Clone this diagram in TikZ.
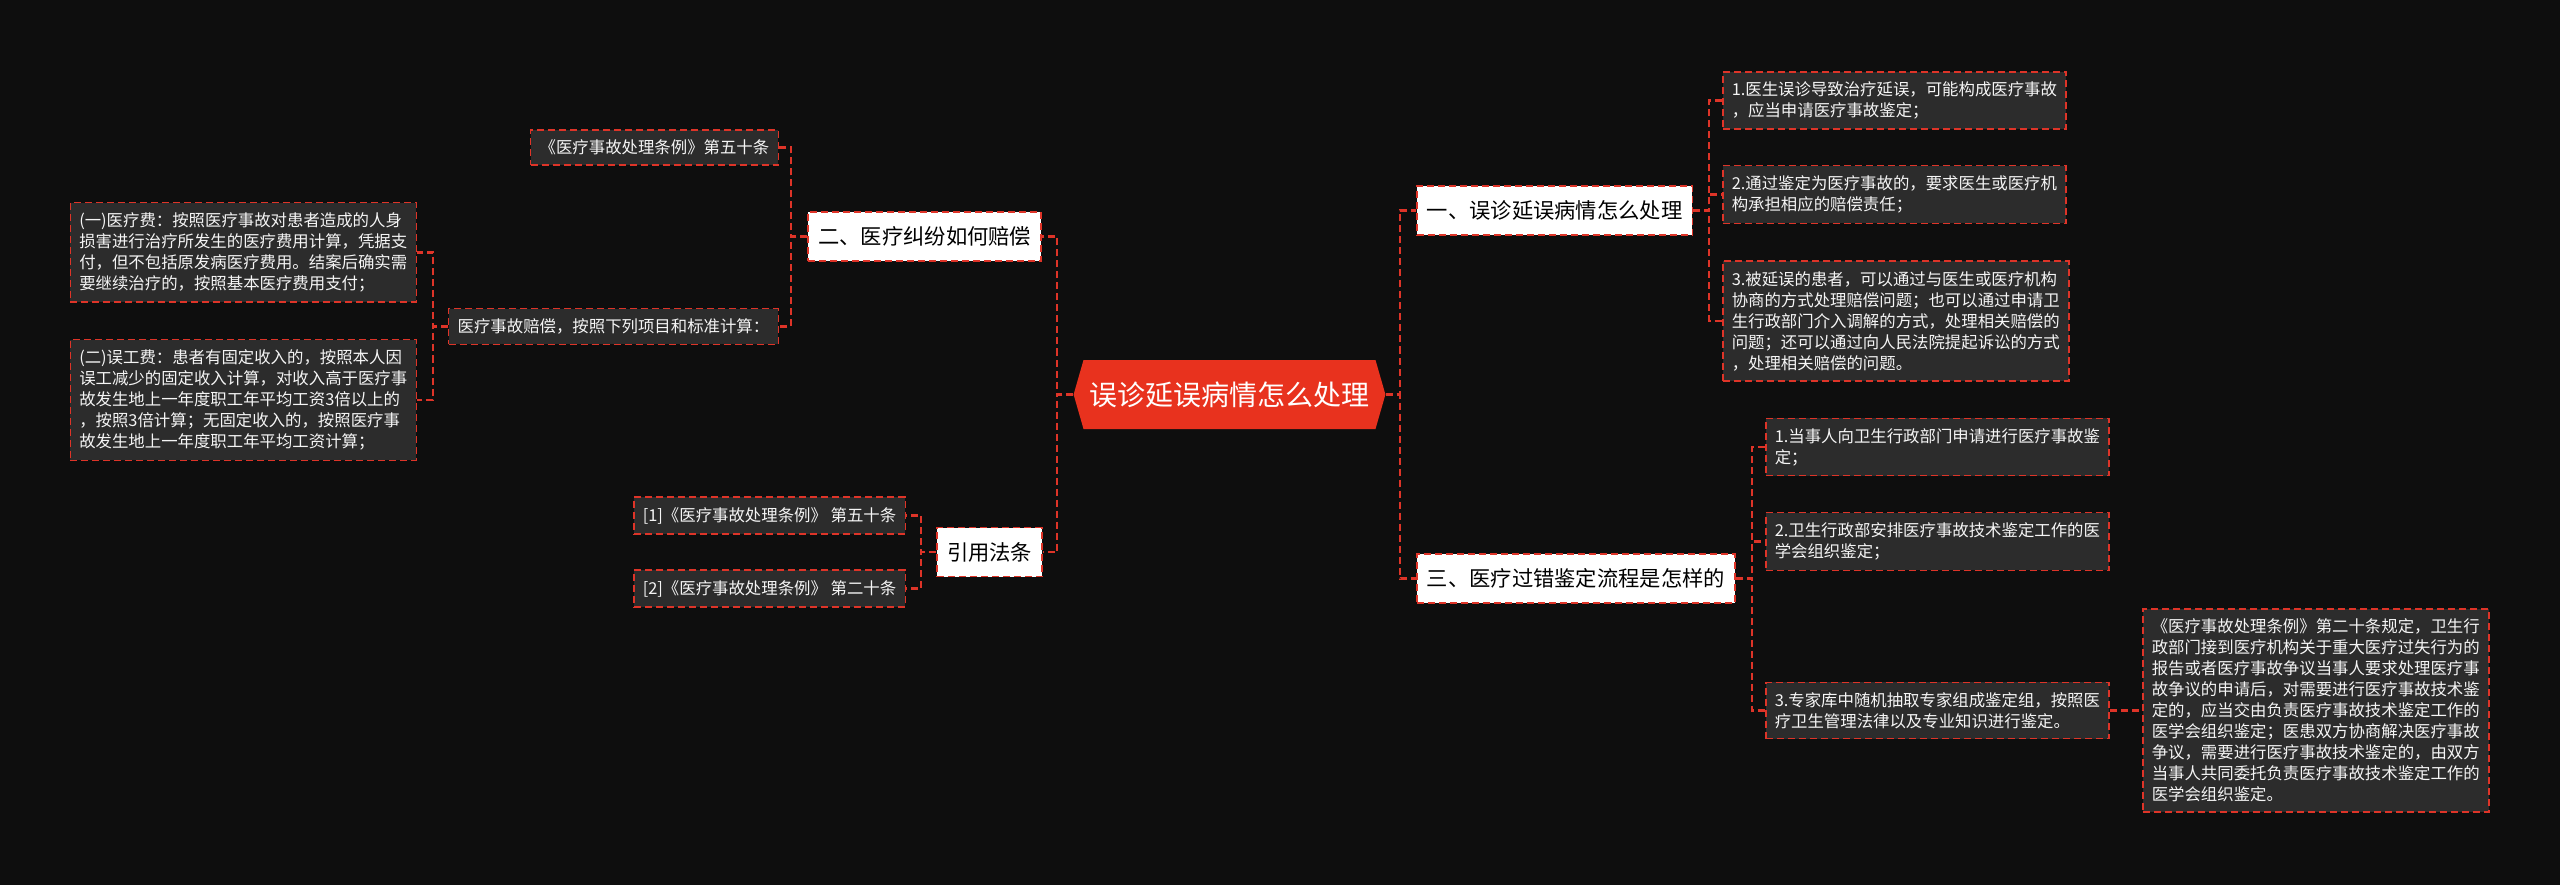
\documentclass[tikz,border=0pt]{standalone}
\usepackage{fontspec}
\setmainfont{Noto Sans CJK SC}
\usetikzlibrary{shapes}
\usetikzlibrary{calc,positioning}

\definecolor{bg}{RGB}{14,14,14}
\definecolor{leafbg}{RGB}{44,44,44}
\definecolor{dashred}{RGB}{222,52,40}
\definecolor{topicred}{RGB}{232,50,30}

\begin{document}
\begin{tikzpicture} [x=1pt, y=-1pt,
        topic/.style={
            signal,
            signal to=east and west,
            signal pointer angle=148,
            fill=topicred,
            text=white,
            font=\fontsize{28}{32}\selectfont,
            minimum height=69pt,
            inner xsep=6pt,
            inner ysep=0pt},
        branch/.style={
            rectangle,
            draw=dashred,
            fill=white,
            text=black,
            dash pattern=on 7pt off 4pt,
            line width=1.6pt,
            font=\fontsize{21.3}{26}\selectfont,
            minimum height=49pt,
            inner xsep=10pt,
            inner ysep=0pt},
        leaf/.style={
            rectangle,
            draw=dashred,
            fill=leafbg,
            text=white!96!black,
            align=left,
            dash pattern=on 7pt off 4pt,
            line width=1.5pt,
            font=\fontsize{16.4}{21}\selectfont,
            inner xsep=9pt,
            inner ysep=10pt},
        link/.style={
            draw=dashred,
            dash pattern=on 7pt off 4pt,
            line width=2.1pt}]

    \fill[bg] (0,0) rectangle (2560,885);

    % centre
    \node[topic] (t) at (1229.5,394.5) {误诊延误病情怎么处理};

    % right branches
    \node[branch,anchor=west] (b1) at (1416,210.5) {一、误诊延误病情怎么处理};
    \node[branch,anchor=west] (b3) at (1416,578.5) {三、医疗过错鉴定流程是怎样的};

    \node[leaf,anchor=west] (r11) at (1722,100.5) {1.医生误诊导致治疗延误，可能构成医疗事故\\，应当申请医疗事故鉴定；};
    \node[leaf,anchor=west] (r12) at (1722,194.5) {2.通过鉴定为医疗事故的，要求医生或医疗机\\构承担相应的赔偿责任；};
    \node[leaf,anchor=west] (r13) at (1722,321) {3.被延误的患者，可以通过与医生或医疗机构\\协商的方式处理赔偿问题；也可以通过申请卫\\生行政部门介入调解的方式，处理相关赔偿的\\问题；还可以通过向人民法院提起诉讼的方式\\，处理相关赔偿的问题。};

    \node[leaf,anchor=west] (r31) at (1765,447) {1.当事人向卫生行政部门申请进行医疗事故鉴\\定；};
    \node[leaf,anchor=west] (r32) at (1765,541.5) {2.卫生行政部安排医疗事故技术鉴定工作的医\\学会组织鉴定；};
    \node[leaf,anchor=west] (r33) at (1765,710.5) {3.专家库中随机抽取专家组成鉴定组，按照医\\疗卫生管理法律以及专业知识进行鉴定。};
    \node[leaf,anchor=west] (r34) at (2142,710.5) {《医疗事故处理条例》第二十条规定，卫生行\\政部门接到医疗机构关于重大医疗过失行为的\\报告或者医疗事故争议当事人要求处理医疗事\\故争议的申请后，对需要进行医疗事故技术鉴\\定的，应当交由负责医疗事故技术鉴定工作的\\医学会组织鉴定；医患双方协商解决医疗事故\\争议，需要进行医疗事故技术鉴定的，由双方\\当事人共同委托负责医疗事故技术鉴定工作的\\医学会组织鉴定。};

    % left branches
    \node[branch,anchor=east] (b2) at (1042,236.5) {二、医疗纠纷如何赔偿};
    \node[branch,anchor=east] (b4) at (1043,552) {引用法条};

    \node[leaf,anchor=east] (l21) at (779,147.5) {《医疗事故处理条例》第五十条};
    \node[leaf,anchor=east] (l22) at (779,326.5) {医疗事故赔偿，按照下列项目和标准计算：};
    \node[leaf,anchor=east] (l221) at (417,252.5) {(一)医疗费：按照医疗事故对患者造成的人身\\损害进行治疗所发生的医疗费用计算，凭据支\\付，但不包括原发病医疗费用。结案后确实需\\要继续治疗的，按照基本医疗费用支付；};
    \node[leaf,anchor=east] (l222) at (417,400) {(二)误工费：患者有固定收入的，按照本人因\\误工减少的固定收入计算，对收入高于医疗事\\故发生地上一年度职工年平均工资3倍以上的\\，按照3倍计算；无固定收入的，按照医疗事\\故发生地上一年度职工年平均工资计算；};

    \node[leaf,anchor=east] (l41) at (906,515.5) {[1]《医疗事故处理条例》 第五十条};
    \node[leaf,anchor=east] (l42) at (906,588.5) {[2]《医疗事故处理条例》 第二十条};

    % connect
    \foreach \c in {b1,b3}
        \draw[link] (t.east) -- ++(14,0) |- (\c.west);
    \foreach \c in {r11,r12,r13}
        \draw[link] (b1.east) -- ++(16,0) |- (\c.west);
    \foreach \c in {r31,r32,r33}
        \draw[link] (b3.east) -- ++(16,0) |- (\c.west);
    \draw[link] (r33.east) -- (r34.west);

    \foreach \c in {b2,b4}
        \draw[link] (t.west) -- ++(-16,0) |- (\c.east);
    \foreach \c in {l21,l22}
        \draw[link] (b2.west) -- ++(-16,0) |- (\c.east);
    \foreach \c in {l221,l222}
        \draw[link] (l22.west) -- ++(-15,0) |- (\c.east);
    \foreach \c in {l41,l42}
        \draw[link] (b4.west) -- ++(-15,0) |- (\c.east);

\end{tikzpicture}
\end{document}
